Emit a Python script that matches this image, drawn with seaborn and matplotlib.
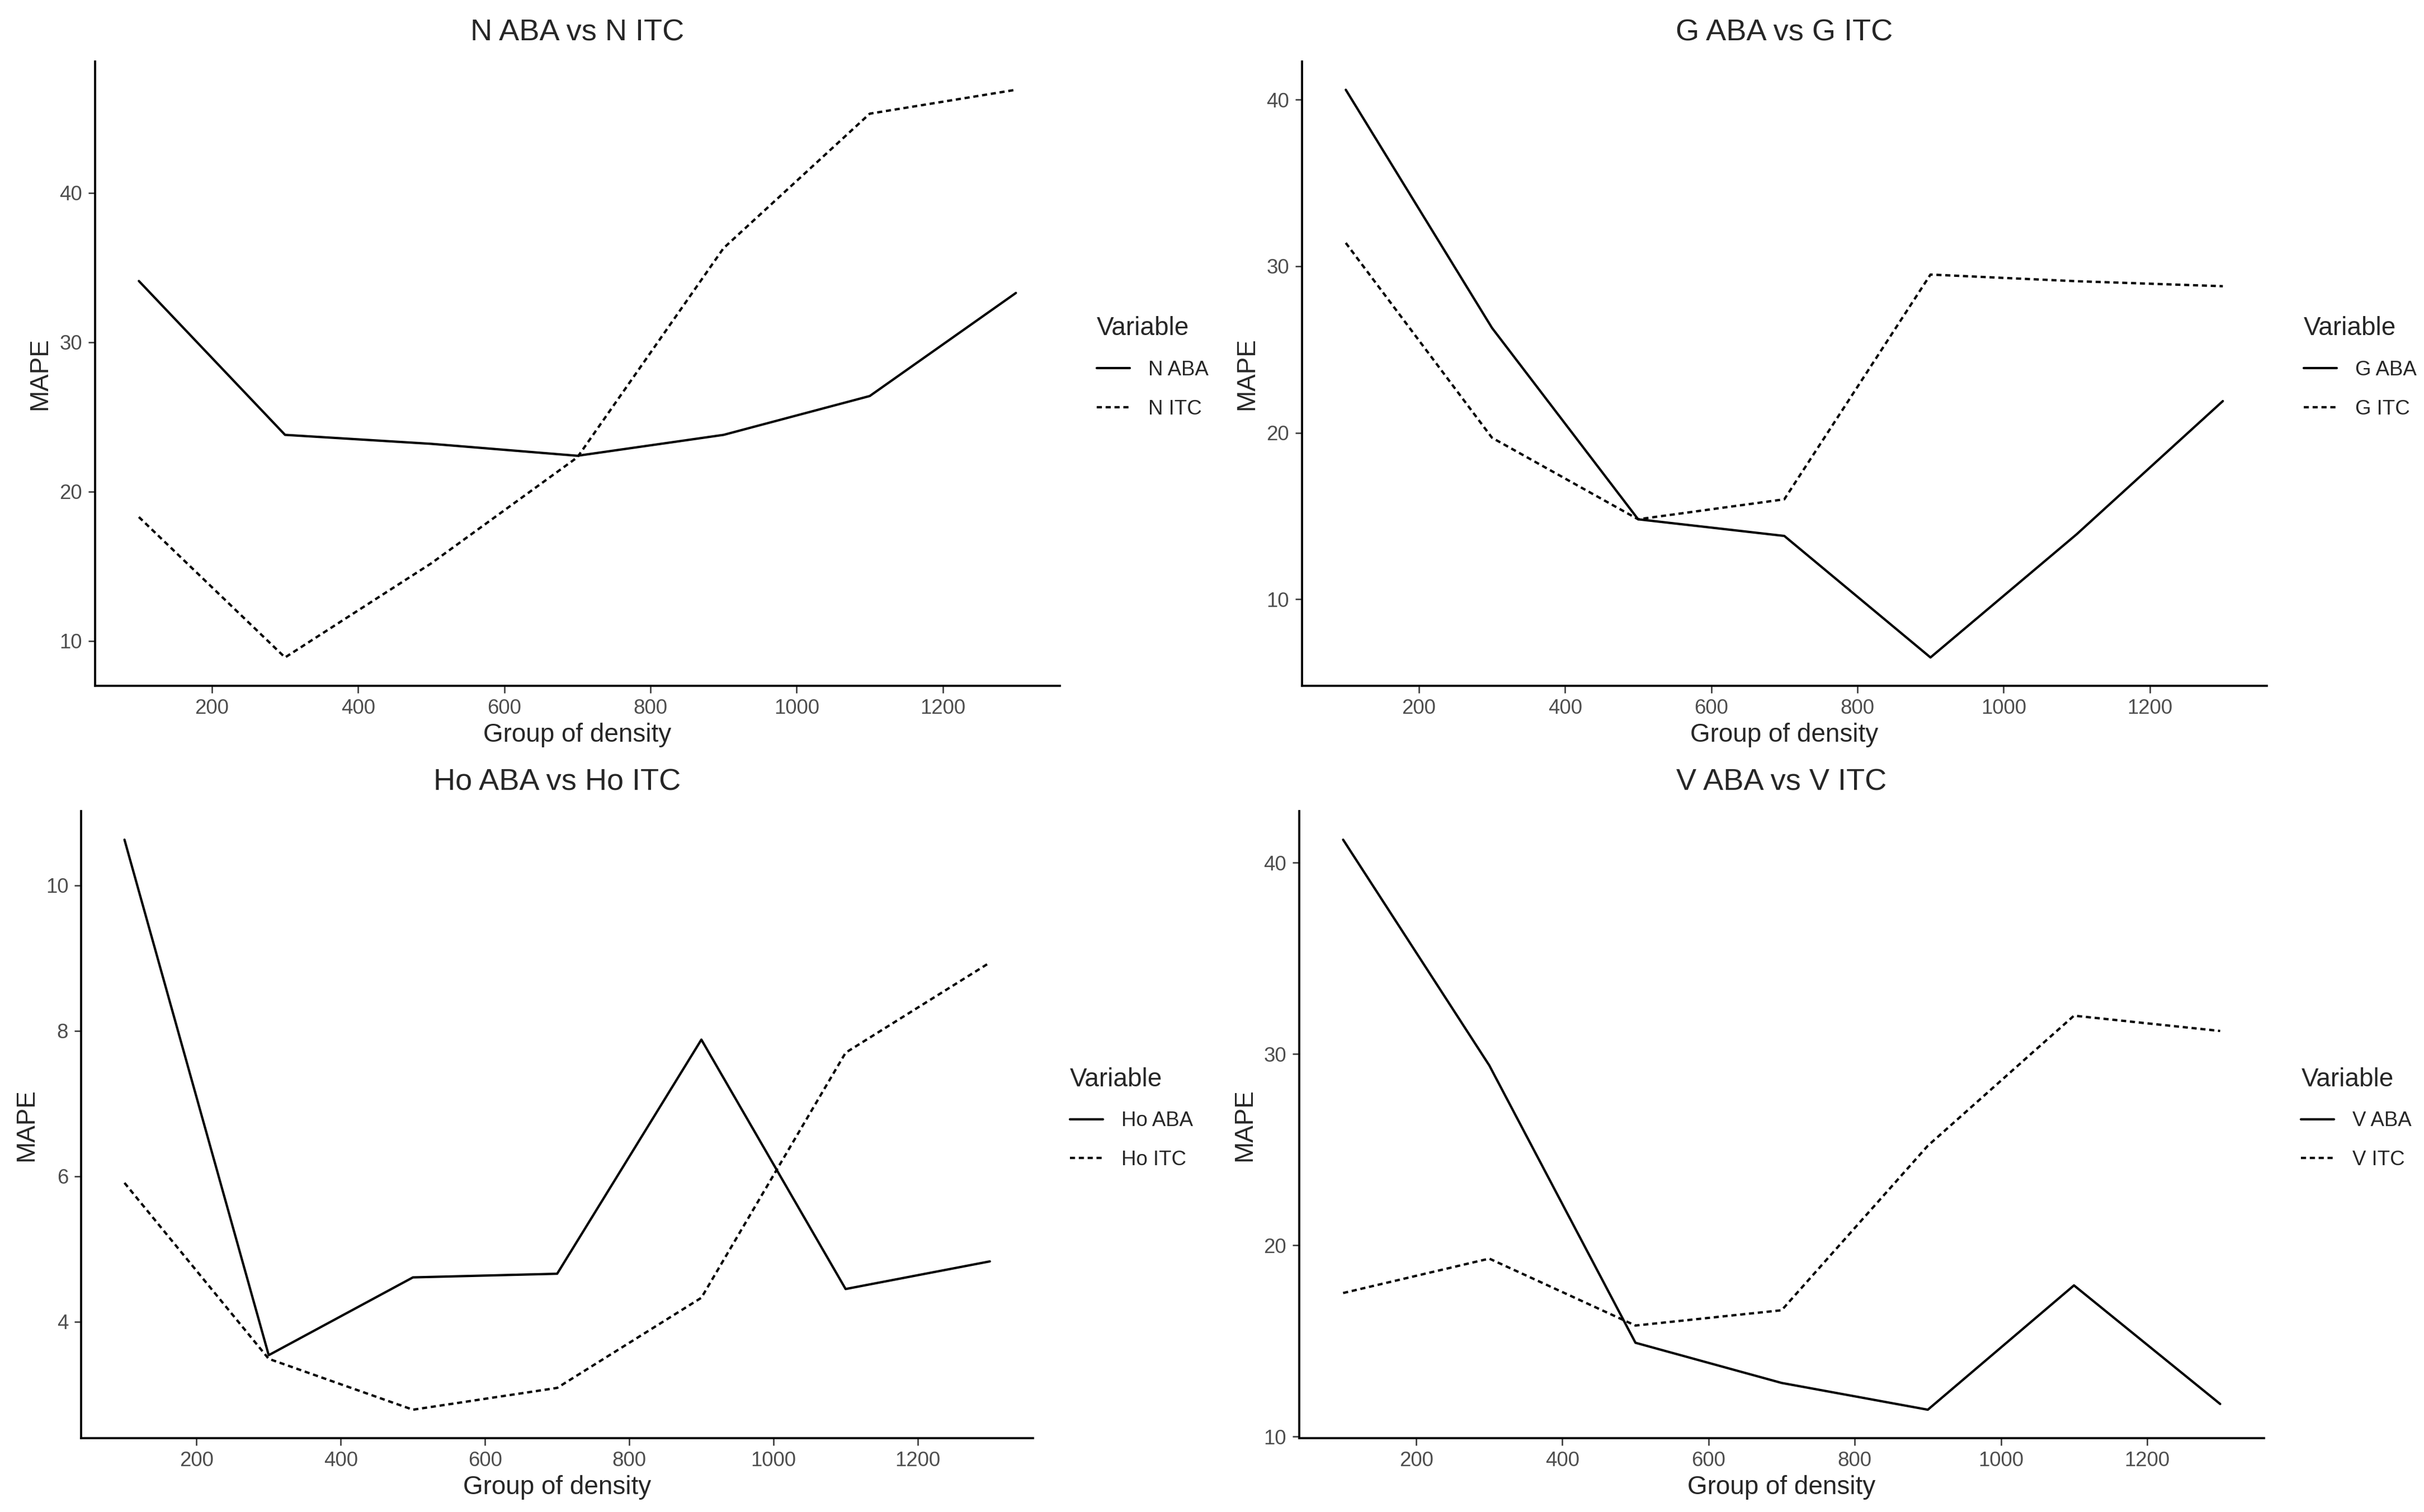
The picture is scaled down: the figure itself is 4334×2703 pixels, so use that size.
import pandas as pd
import matplotlib.pyplot as plt
import matplotlib.ticker as mticker
import seaborn as sns

# 密度分组
density = [100, 300, 500, 700, 900, 1100, 1300]

# 各变量 MAPE
n_aba = [34.1, 23.8, 23.2, 22.4, 23.8, 26.4, 33.3]
n_itc = [18.3, 8.9, 15.2, 22.3, 36.3, 45.3, 46.9]

g_aba = [40.6, 26.3, 14.8, 13.8, 6.5, 13.9, 21.9]
g_itc = [31.4, 19.7, 14.8, 16.0, 29.5, 29.1, 28.8]

ho_aba = [10.63, 3.54, 4.61, 4.66, 7.88, 4.45, 4.83]
ho_itc = [5.91, 3.49, 2.79, 3.09, 4.33, 7.70, 8.94]

v_aba = [41.2, 29.4, 14.9, 12.8, 11.4, 17.9, 11.7]
v_itc = [17.5, 19.3, 15.8, 16.6, 25.2, 32.0, 31.2]

panels = [
    ('N', n_aba, n_itc, 10),
    ('G', g_aba, g_itc, 10),
    ('Ho', ho_aba, ho_itc, 2),
    ('V', v_aba, v_itc, 10),
]

# 每个子图在画布上的位置 [left, bottom, width, height]
axes_pos = [
    [0.0392, 0.5464, 0.398, 0.4130],
    [0.5371, 0.5464, 0.398, 0.4130],
    [0.0335, 0.0488, 0.3927, 0.4147],
    [0.5360, 0.0488, 0.3980, 0.4147],
]

sns.set_style('ticks')
plt.rcParams['font.family'] = ['Liberation Sans', 'DejaVu Sans']

fig = plt.figure(figsize=(4334 / 300, 2703 / 300), dpi=300)

for (name, aba, itc, ystep), pos in zip(panels, axes_pos):
    ax = fig.add_axes(pos)
    lab_aba = f'{name} ABA'
    lab_itc = f'{name} ITC'
    df = pd.DataFrame({
        'density': density + density,
        'MAPE': aba + itc,
        'Variable': [lab_aba] * len(density) + [lab_itc] * len(density),
    })
    sns.lineplot(data=df, x='density', y='MAPE', style='Variable',
                 style_order=[lab_aba, lab_itc],
                 dashes={lab_aba: '', lab_itc: (2.2, 1.6)},
                 color='black', linewidth=1.0, ax=ax)

    ax.set_title(f'{name} ABA vs {name} ITC', fontsize=13, pad=9)
    ax.set_xlabel('Group of density', fontsize=11, labelpad=2)
    ax.set_ylabel('MAPE', fontsize=11, labelpad=3)
    ax.set_xticks(range(200, 1201, 200))
    ax.yaxis.set_major_locator(mticker.MultipleLocator(ystep))
    ax.tick_params(labelsize=8.8, labelcolor='#4D4D4D', color='#333333',
                   length=3, width=0.6, pad=2.5)
    sns.despine(ax=ax)
    for sp in ('left', 'bottom'):
        ax.spines[sp].set_linewidth(0.9)
        ax.spines[sp].set_color('black')

    handles, labels = ax.get_legend_handles_labels()
    leg = ax.legend(handles, labels, title='Variable', loc='center left',
                    bbox_to_anchor=(1.03, 0.51), frameon=False,
                    fontsize=8.8, title_fontsize=11, handlelength=1.6,
                    handletextpad=0.9, labelspacing=0.95, alignment='left',
                    borderaxespad=0)
    for h in leg.legend_handles:
        h.set_color('black')
        h.set_linewidth(1.0)

plt.savefig('out.png', dpi=300, facecolor='white')
